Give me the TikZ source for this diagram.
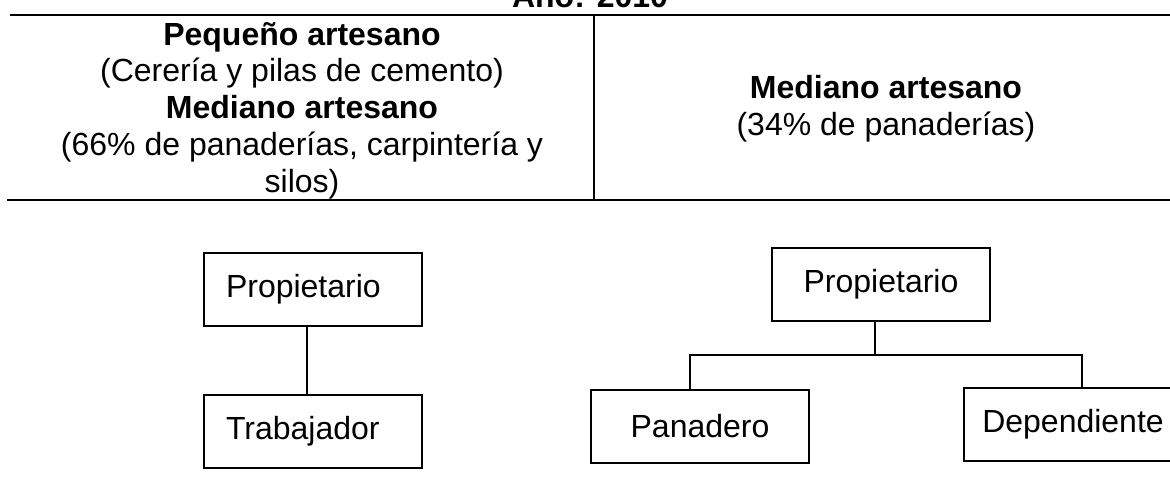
\documentclass[tikz,border=0pt]{standalone}
\usepackage{fontspec}
\setmainfont{Liberation Sans}
\begin{document}
\begin{tikzpicture}[x=0.5pt,y=-0.5pt,
  every node/.style={font=\fontsize{16pt}{18.35pt}\selectfont},
  rule/.style={line width=1pt},
  cbox/.style={draw,line width=1pt,minimum width=109pt,minimum height=36.5pt,inner sep=0pt,anchor=north west},
  lbox/.style={cbox,text width=87pt,inner xsep=11pt,align=left},
  link/.style={line width=0.9pt}]
\useasboundingbox (0,0) rectangle (1170,487);
% table
\coordinate (tl) at (10,15);
\coordinate (tr) at (1185,15);
\coordinate (bl) at (7,200);
\coordinate (br) at (1185,200);
\coordinate (dt) at (594,15);
\coordinate (db) at (594,200);
\draw[rule] (tl) -- (tr);
\draw[rule] (bl) -- (br);
\draw[rule] (dt) -- (db);
\node[anchor=base,font=\fontsize{16pt}{18.35pt}\selectfont\bfseries] (title) at (590,7) {Año: 2010};
\node[anchor=base,align=center] (left) at (302,192) {\textbf{Pequeño artesano}\\(Cerería y pilas de cemento)\\\textbf{Mediano artesano}\\(66\% de panaderías, carpintería y\\silos)};
\node[anchor=base,align=center] (right) at (886,135) {\textbf{Mediano artesano}\\(34\% de panaderías)};
% left chart
\node[lbox] (p1) at (203,252) {Propietario};
\node[lbox] (t1) at (203,394) {Trabajador};
\draw[link] ([xshift=-3.2pt]p1.south) -- ([xshift=-3.2pt]t1.north);
% right chart
\node[cbox] (p2) at (771,247) {Propietario};
\node[cbox] (pan) at (590,389) {Panadero};
\node[cbox] (dep) at (963,387) {Dependiente};
\coordinate (jl) at (690,355);
\coordinate (jr) at (1082,355);
\draw[link] ([xshift=-3pt]p2.south) -- ([xshift=-3pt]p2.south |- jl);
\draw[link] (pan.north -| jl) -- (jl) -- (jr) -- (dep.north -| jr);
\end{tikzpicture}
\end{document}
